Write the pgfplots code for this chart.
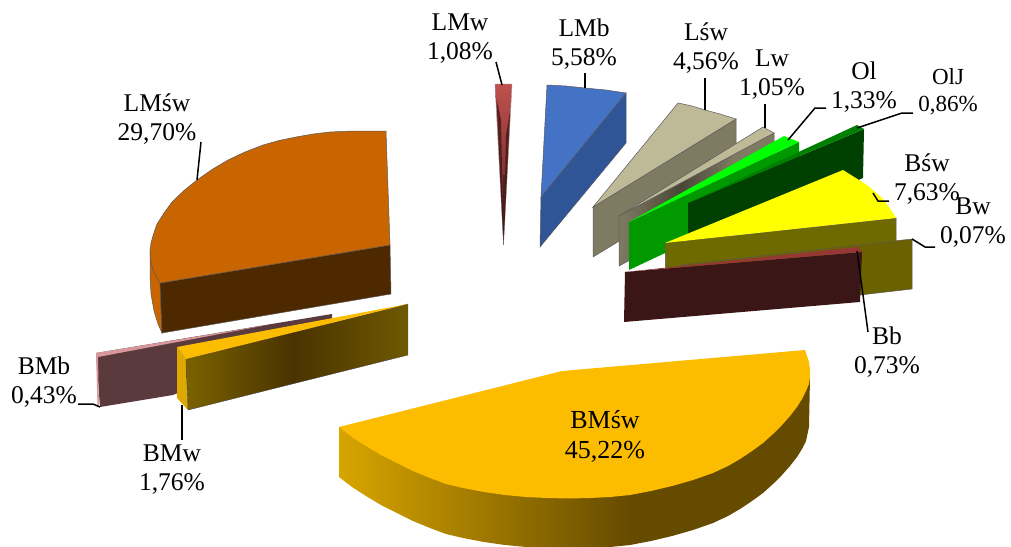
\documentclass[border=0pt]{standalone}
\usepackage{pgfplots}
\pgfplotsset{compat=1.18}
\usepackage{fontspec}
\setmainfont{Liberation Serif}
\definecolor{cLMwT}{HTML}{C0504D}
\definecolor{cLMwD}{HTML}{3B1414}
\definecolor{cLMwM}{HTML}{8A3636}
\definecolor{cBlueT}{HTML}{4472C4}
\definecolor{cBlueS}{HTML}{2F5597}
\definecolor{cTanT}{HTML}{BEB997}
\definecolor{cTanS}{HTML}{7F7B63}
\definecolor{cTanD}{HTML}{4A4636}
\definecolor{cLime}{HTML}{00FF00}
\definecolor{cYel}{HTML}{FFFF00}
\definecolor{cOlS}{HTML}{009900}
\definecolor{cOlJT}{HTML}{007F00}
\definecolor{cOlJS}{HTML}{004000}
\definecolor{cYelS}{HTML}{6F6A00}
\definecolor{cBwS}{HTML}{6B6100}
\definecolor{cBbT}{HTML}{953735}
\definecolor{cBbS}{HTML}{3B1616}
\definecolor{cOrT}{HTML}{C96500}
\definecolor{cOrS}{HTML}{4E2900}
\definecolor{cPinkT}{HTML}{D8989B}
\definecolor{cPinkS}{HTML}{5A3A3C}
\definecolor{cGoldT}{HTML}{FCBD00}
\definecolor{cGoldL}{HTML}{DDA800}
\definecolor{cGoldA}{HTML}{7A6200}
\definecolor{cGoldB}{HTML}{4A3300}
\definecolor{cGoldC}{HTML}{6F5900}
\definecolor{cBigL}{HTML}{D8A500}
\definecolor{cBigR}{HTML}{654B00}
\pgfdeclarehorizontalshading{shBW}{100bp}{color(0bp)=(cGoldA); color(25bp)=(cGoldA); color(49bp)=(cGoldB); color(75bp)=(cGoldC); color(100bp)=(cGoldC)}
\pgfdeclarehorizontalshading{shBig}{100bp}{color(0bp)=(cBigL); color(25bp)=(cBigL); color(56bp)=(cBigR); color(100bp)=(cBigR)}
\pgfdeclarehorizontalshading{shLw}{100bp}{color(0bp)=(cTanS); color(25bp)=(cTanS); color(45bp)=(cTanD); color(62bp)=(cTanS); color(100bp)=(cTanS)}
\pgfdeclareverticalshading{shLMw}{100bp}{color(0bp)=(cLMwD); color(25bp)=(cLMwD); color(50bp)=(cLMwM); color(75bp)=(cLMwT); color(100bp)=(cLMwT)}
\tikzset{
  edge/.style={draw=black!65,line width=0.5pt},
  lead/.style={draw=black,line width=1.5pt},
  lab/.style={align=center,font=\fontsize{25.5}{29}\selectfont,inner sep=0pt,anchor=center},
}
\begin{document}
\begin{tikzpicture}
\begin{axis}[at={(0,0)},anchor=south west,scale only axis,width=1011pt,height=546pt,
  xmin=0,xmax=1011,ymin=0,ymax=546,y dir=reverse,hide axis,clip=true]
% LMw
\addplot[shading=shLMw,draw=black!40,line width=0.4pt] coordinates {(495,84)(512,84)(503.5,245)} --cycle;
\addplot[fill=cLMwD,fill opacity=0.75,draw=none] coordinates {(496.5,98)(501,120)(503.5,245)} --cycle;
\addplot[fill=cLMwD,fill opacity=0.75,draw=none] coordinates {(510,112)(506,135)(503.5,245)} --cycle;
\addplot[fill=cLMwD,fill opacity=0.6,draw=none] coordinates {(503,175)(505,175)(503.5,245)} --cycle;
% LMb
\addplot[fill=cBlueS,edge] coordinates {(626,93)(626,143)(540,247)(541,197)} --cycle;
\addplot[fill=cBlueT,edge] coordinates {(547,85)(566,86)(585,88)(606,90)(626,93)(541,197)} --cycle;
% Lsw
\addplot[fill=cTanS,edge] coordinates {(736,119)(736,170)(593,257)(593,207)} --cycle;
\addplot[fill=cTanT,edge] coordinates {(678,103)(692,106)(705,110)(720,114)(736,119)(593,207)} --cycle;
% Lw
\addplot[shading=shLw,draw=black!65,line width=0.5pt] coordinates {(774,133)(774,182)(619,266)(619,216)} --cycle;
\addplot[fill=cTanT,edge] coordinates {(763,127)(774,133)(619,216)} --cycle;
% Ol
\addplot[fill=cOlS,draw=none] coordinates {(799,142)(799,190)(629,270)(629,222)} --cycle;
\addplot[fill=cLime,draw=none] coordinates {(784,136)(799,142)(629,222)} --cycle;
% OlJ
\addplot[fill=cOlJS,draw=none] coordinates {(864,129)(863,178)(688,255)(688,203)} --cycle;
\addplot[fill=cOlJT,draw=none] coordinates {(857,125)(864,129)(688,203)} --cycle;
% Bsw
\addplot[fill=cYelS,edge] coordinates {(896,218)(896,262)(666,290)(665,243)} --cycle;
\addplot[fill=cYel,draw=none] coordinates {(843,170)(851,175)(859,180)(867,185)(874,191)(881,197)(886,203)(891,210)(896,218)(665,243)} --cycle;
% Bw
\addplot[fill=cBwS,edge] coordinates {(912,239)(912,289)(860,295)(680,310)(680,265)} --cycle;
% Bb
\addplot[fill=cBbS,draw=none] coordinates {(862,252)(860,302)(624,322)(625,272)} --cycle;
\addplot[fill=cBbT,draw=none] coordinates {(858,247)(862,252)(625,272)} --cycle;
% LMsw
\addplot[fill=cOrT,edge] coordinates {(160,283)(162,333)(158,324)(154,311)(151,294)(150,275)(150,250)} --cycle;
\addplot[fill=cOrS,edge] coordinates {(390,245)(391,294)(162,333)(160,283)} --cycle;
\addplot[fill=cOrT,edge] coordinates {(386,131)(372,131)(358,131)(344,131.3)(330,132)(313,134)(296,137)(279,140.5)(263,145)(245,152)(228,160)(212,169.5)(197,180)(184,190.5)(172,202)(164,213)(157,224)(153.5,234)(151,243)(150,251)(150.5,260)(153,270)(160,283)(390,245)} --cycle;
% BMb
\addplot[fill=cPinkS,draw=none] coordinates {(96,353)(332,314)(332,330)(173,395)(100,407)} --cycle;
\addplot[fill=cPinkT,draw=none] coordinates {(96,353)(270,324.5)(98,357)(99,407)(97.5,407)} --cycle;
% BMw
\addplot[fill=cGoldL,draw=none] coordinates {(177,347)(186,359)(188,410)(177,398)} --cycle;
\addplot[shading=shBW,draw=black!70,line width=0.4pt] coordinates {(186,359)(408,304)(408,355)(188,410)} --cycle;
\addplot[fill=cGoldT,draw=none] coordinates {(177,347)(408,304)(186,359)} --cycle;
% BMsw
\addplot[shading=shBig,draw=none] coordinates {(810,377)(809,427)(806,441)(802,449)(797,457)(790,466)(782,475)(773,484)(763,493)(752,501)(740,509)(728,516)(713,523)(693,530)(672,536)(651,541)(630,545)(610,547)(590,548)(569,548.5)(547,548)(526,547)(505,545)(484,542)(463,538)(446,534)(430,528)(413,521)(397,513)(381,505)(366,496)(352,487)(339,477)(339,427)} --cycle;
\addplot[fill=cGoldT,draw=none] coordinates {(805,350)(562,371)(339,427)(352,437)(366,446)(381,455)(397,463)(413,471)(430,478)(446,484)(463,488)(484,492)(505,495)(526,497)(547,498)(569,498.5)(590,498)(610,497)(630,495)(651,491)(672,486)(693,480)(713,473)(728,466)(740,459)(752,451)(763,443)(773,434)(782,425)(790,416)(797,407)(802,399)(806,391)(809,384)(810,377)(810,370)(809,362)(807,356)} --cycle;
% leaders
\addplot[lead] coordinates {(496,62)(502,85)};
\addplot[lead] coordinates {(585,73)(585,88)};
\addplot[lead] coordinates {(705,78)(705,110)};
\addplot[lead] coordinates {(765,104)(765,128)};
\addplot[lead] coordinates {(826,108)(815,108)(788,140)};
\addplot[lead] coordinates {(913,113)(902,113)(857,128)};
\addplot[lead] coordinates {(873,193)(878,201)(889,201)};
\addplot[lead] coordinates {(912,239)(925,247)(935,247)};
\addplot[lead] coordinates {(857,251)(868,332)};
\addplot[lead] coordinates {(78,404)(93,404)(100,407)};
\addplot[lead] coordinates {(182,405)(182,440)};
\addplot[lead] coordinates {(201,142)(197,180)};
% labels
\node[lab] at (axis cs:460,39) {LMw\\1,08\%};
\node[lab] at (axis cs:584,44) {LMb\\5,58\%};
\node[lab] at (axis cs:706,48) {Lśw\\4,56\%};
\node[lab] at (axis cs:772,75) {Lw\\1,05\%};
\node[lab] at (axis cs:864,87) {Ol\\1,33\%};
\node[lab,font=\fontsize{23}{27}\selectfont] at (axis cs:948,92) {OlJ\\0,86\%};
\node[lab] at (axis cs:927,179) {Bśw\\7,63\%};
\node[lab] at (axis cs:973,223) {Bw\\0,07\%};
\node[lab] at (axis cs:887,352) {Bb\\0,73\%};
\node[lab] at (axis cs:44,382) {BMb\\0,43\%};
\node[lab] at (axis cs:172,470) {BMw\\1,76\%};
\node[lab] at (axis cs:157,119) {LMśw\\29,70\%};
\node[lab,font=\fontsize{26}{30}\selectfont] at (axis cs:605,436) {BMśw\\45,22\%};
\end{axis}
\path (0,0) rectangle (1011pt,546pt);
\end{tikzpicture}
\end{document}
